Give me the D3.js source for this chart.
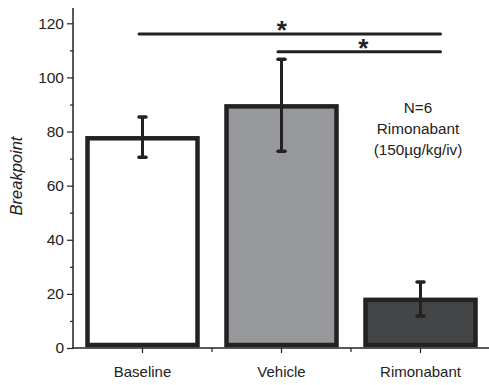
<!DOCTYPE html>
<html><head><meta charset="utf-8">
<script src="https://cdn.jsdelivr.net/npm/d3@7"></script>
<style>body{margin:0;background:#fff}svg{display:block}</style>
</head><body>
<svg id="c" width="489" height="385"></svg>
<script>
const categories = ["Baseline", "Vehicle", "Rimonabant"];
const means = [77.5, 89.3, 17.8];
const errLow = [70.5, 72.7, 11.8];
const errHigh = [85.4, 106.7, 24.4];
const fills = ["#ffffff", "#97989b", "#444547"];
const yTicks = [0, 20, 40, 60, 80, 100, 120];
const yMinor = [10, 30, 50, 70, 90, 110];
const sigPairs = [[0, 2], [1, 2]];
const sigLevels = [116, 109.5];
const annotation = ["N=6", "Rimonabant", "(150µg/kg/iv)"];

const svg = d3.select("#c");
const font = "Arial, 'Liberation Sans', sans-serif";
const x = d3.scaleBand().domain(categories).range([73, 490]).paddingInner(0).paddingOuter(0);
const y = d3.scaleLinear().domain([0, 120]).range([348, 23.3]);
const cx = c => x(c) + x.bandwidth() / 2;

// bars
const bw = 110;
svg.selectAll("rect.bar").data(categories).join("rect")
  .attr("x", d => cx(d) - bw/2)
  .attr("y", (d,i) => y(means[i]))
  .attr("width", bw)
  .attr("height", (d,i) => y(0) - y(means[i]) - 3)
  .attr("fill", (d,i) => fills[i])
  .attr("stroke", "#222").attr("stroke-width", 4.5);

// error bars
categories.forEach((c,i) => {
  const xc = cx(c);
  svg.append("line").attr("x1", xc).attr("x2", xc).attr("y1", y(errLow[i])).attr("y2", y(errHigh[i]))
    .attr("stroke", "#222").attr("stroke-width", 3);
  [errLow[i], errHigh[i]].forEach(v => {
    svg.append("line").attr("x1", xc-3.5).attr("x2", xc+3.5).attr("y1", y(v)).attr("y2", y(v))
      .attr("stroke", "#222").attr("stroke-width", 3.5).attr("stroke-linecap", "round");
  });
});

// axes
const gy = svg.append("g").attr("transform", "translate(73,0)")
  .call(d3.axisLeft(y).tickValues(yTicks).tickSize(6).tickPadding(3));
gy.select(".domain").remove();
gy.selectAll("line").attr("stroke", "#222").attr("stroke-width", 1.2);
gy.selectAll("text").attr("font-family", font).attr("font-size", 15.5).attr("fill", "#222");
svg.append("g").attr("transform", "translate(73,0)")
  .call(d3.axisLeft(y).tickValues(yMinor).tickSize(3).tickFormat(""))
  .call(g => g.select(".domain").remove())
  .selectAll("line").attr("stroke", "#222").attr("stroke-width", 1.2);
svg.append("line").attr("x1", 73).attr("x2", 73).attr("y1", 8).attr("y2", 348.5).attr("stroke", "#222").attr("stroke-width", 1.5);

const gx = svg.append("g").attr("transform", "translate(0,348)")
  .call(d3.axisBottom(x).tickSize(5).tickPadding(13));
gx.select(".domain").remove();
gx.selectAll("line").attr("stroke", "#222").attr("stroke-width", 1.2);
gx.selectAll("text").attr("font-family", font).attr("font-size", 15).attr("fill", "#222");
svg.selectAll("line.bnd").data(categories.slice(1)).join("line")
  .attr("x1", d => x(d)).attr("x2", d => x(d)).attr("y1", 348).attr("y2", 352)
  .attr("stroke", "#222").attr("stroke-width", 1.2);
svg.append("line").attr("x1", 72).attr("x2", 489).attr("y1", 348).attr("y2", 348).attr("stroke", "#222").attr("stroke-width", 1.5);

// y label
svg.append("text").attr("transform", `translate(22,176) rotate(-90)`)
  .attr("text-anchor", "middle").attr("font-family", font).attr("font-style", "italic")
  .attr("font-size", 16.5).attr("fill", "#222").text("Breakpoint");

// significance
sigPairs.forEach((p, k) => {
  const x1 = cx(categories[p[0]]) - 3.5;
  const x2 = cx(categories[p[1]]) + 20;
  const yy = y(sigLevels[k]);
  svg.append("line").attr("x1", x1).attr("x2", x2).attr("y1", yy).attr("y2", yy)
    .attr("stroke", "#222").attr("stroke-width", 3).attr("stroke-linecap", "round");
  svg.append("text").attr("x", (x1 + x2) / 2 + (k === 0 ? -8 : 4))
    .attr("y", yy + 5).attr("text-anchor", "middle").attr("font-weight", "bold")
    .attr("font-family", font).attr("font-size", 26).attr("fill", "#222").text("*");
});

// annotation
svg.selectAll("text.ann").data(annotation).join("text")
  .attr("x", 418).attr("y", (d,i) => 113 + i*21).attr("text-anchor", "middle")
  .attr("font-family", font).attr("font-size", 15.3).attr("fill", "#222").text(d => d);
</script>
</body></html>
